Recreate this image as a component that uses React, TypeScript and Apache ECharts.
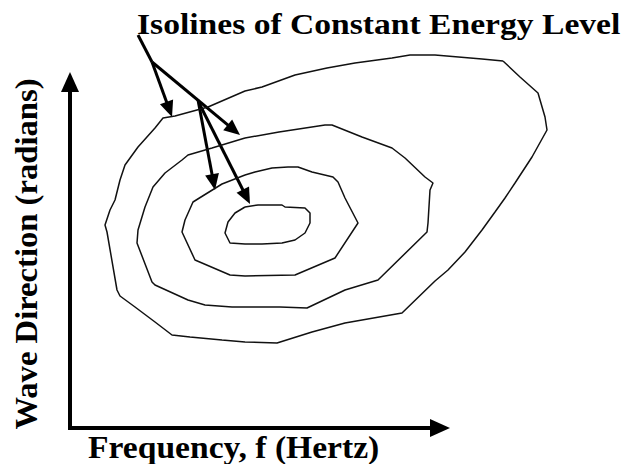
import React, { useEffect, useRef } from "react";
import * as echarts from "echarts";

// Diagram coordinates: x = frequency (arbitrary units), y = wave direction (arbitrary units)
const contourOuter: number[][] = [
  [433, 367], [412, 369], [365, 373], [340, 373], [322, 370], [285, 365], [257, 360], [225, 353],
  [192, 341], [175, 337], [138, 321], [105, 312], [93, 310], [85, 300], [68, 281], [55, 263],
  [50, 248], [45, 228], [40, 218], [35, 203], [37, 196], [47, 138], [50, 132], [65, 121],
  [85, 106], [102, 93], [120, 91], [152, 88], [175, 86], [207, 85], [242, 96], [275, 105],
  [332, 115], [365, 147], [378, 158], [395, 176], [412, 198], [425, 216], [435, 230], [445, 245],
  [462, 271], [477, 298], [475, 311], [468, 335], [450, 351], [433, 367],
];
const contourSecond: number[][] = [
  [175, 290], [209, 296], [255, 303], [262, 303], [292, 291], [322, 280], [335, 270], [355, 251],
  [363, 245], [360, 238], [358, 205], [357, 196], [308, 148], [275, 138], [237, 120], [210, 121],
  [175, 121], [162, 121], [135, 123], [118, 128], [85, 143], [82, 146], [67, 185], [68, 198],
  [75, 221], [83, 241], [95, 255], [112, 268], [118, 273], [142, 280], [175, 290],
];
const contourThird: number[][] = [
  [175, 253], [185, 256], [202, 260], [218, 261], [228, 261], [242, 256], [263, 251], [268, 246],
  [275, 230], [288, 205], [265, 170], [225, 153], [175, 152], [160, 153], [125, 168], [112, 196],
  [115, 208], [123, 226], [131, 231], [152, 244], [175, 253],
];
const contourInner: number[][] = [
  [175, 221], [188, 223], [212, 223], [215, 221], [235, 220], [240, 215], [240, 205], [235, 195],
  [225, 188], [212, 185], [192, 184], [175, 184], [160, 185], [155, 195], [158, 206], [165, 215],
  [175, 221],
];

// Leader from the label to the branch point
const leaderStem: number[][] = [[68, 393], [82, 366]];
// Arrows: [fromX, fromY, toX, toY]
const leaderArrows: number[][] = [
  [82, 366, 102, 311],
  [82, 366, 170, 293],
  [128, 328, 145, 238],
  [129, 325, 180, 224],
];
const axisArrows: number[][] = [
  [0, -2, 0, 356],
  [-2, 0, 380, 0],
];

const titleText = "Isolines of Constant Energy Level";
const xLabel = "Frequency, f (Hertz)";
const yLabel = "Wave Direction (radians)";

const FONT = "'Liberation Serif', 'Times New Roman', serif";

function arrowRenderer(width: number, headLen: number, headHalf: number) {
  return (params: any, api: any) => {
    const a = api.coord([api.value(0), api.value(1)]);
    const b = api.coord([api.value(2), api.value(3)]);
    const dx = b[0] - a[0];
    const dy = b[1] - a[1];
    const len = Math.hypot(dx, dy) || 1;
    const ux = dx / len;
    const uy = dy / len;
    const bx = b[0] - ux * headLen;
    const by = b[1] - uy * headLen;
    const px = -uy;
    const py = ux;
    return {
      type: "group",
      children: [
        {
          type: "line",
          shape: { x1: a[0], y1: a[1], x2: bx + ux * 2, y2: by + uy * 2 },
          style: { stroke: "#000", lineWidth: width },
        },
        {
          type: "polygon",
          shape: {
            points: [
              [b[0], b[1]],
              [bx + px * headHalf, by + py * headHalf],
              [bx - px * headHalf, by - py * headHalf],
            ],
          },
          style: { fill: "#000" },
        },
      ],
    };
  };
}

export default function App() {
  const ref = useRef<HTMLDivElement>(null);
  useEffect(() => {
    if (!ref.current) return;
    const chart = echarts.init(ref.current, null, { renderer: "svg" });
    const contourStyle = { color: "#111", width: 1.5 };
    const contour = (name: string, data: number[][]) => ({
      name,
      type: "line",
      data,
      showSymbol: false,
      symbol: "none",
      smooth: false,
      lineStyle: contourStyle,
      itemStyle: { color: "#111" },
      silent: true,
    });
    chart.setOption({
      animation: false,
      backgroundColor: "#fff",
      grid: { left: 0, right: 0, top: 0, bottom: 0 },
      xAxis: { type: "value", min: -70, max: 559, show: false },
      yAxis: { type: "value", min: -36, max: 428, show: false },
      series: [
        contour("outer", contourOuter),
        contour("second", contourSecond),
        contour("third", contourThird),
        contour("inner", contourInner),
        {
          name: "stem",
          type: "line",
          data: leaderStem,
          showSymbol: false,
          symbol: "none",
          lineStyle: { color: "#000", width: 3 },
          silent: true,
        },
        {
          name: "leaders",
          type: "custom",
          data: leaderArrows,
          renderItem: arrowRenderer(3, 16, 7),
          silent: true,
        },
        {
          name: "axes",
          type: "custom",
          data: axisArrows,
          renderItem: arrowRenderer(4, 20, 9),
          silent: true,
        },
      ],
      graphic: [
        {
          type: "text",
          x: 137,
          y: 24,
          scaleX: 1.12,
          style: {
            text: titleText,
            font: `bold 30px ${FONT}`,
            fill: "#000",
            align: "left",
            verticalAlign: "middle",
          },
        },
        {
          type: "text",
          x: 88,
          y: 447,
          scaleX: 1.05,
          style: {
            text: xLabel,
            font: `bold 32px ${FONT}`,
            fill: "#000",
            align: "left",
            verticalAlign: "middle",
          },
        },
        {
          type: "text",
          x: 26,
          y: 254,
          rotation: Math.PI / 2,
          scaleX: 1.02,
          style: {
            text: yLabel,
            font: `bold 32px ${FONT}`,
            fill: "#000",
            align: "center",
            verticalAlign: "middle",
          },
        },
      ],
    });
    return () => chart.dispose();
  }, []);
  return (
    <div
      ref={ref}
      style={{ position: "fixed", left: 0, top: 0, width: 629, height: 464, background: "#fff" }}
    />
  );
}
